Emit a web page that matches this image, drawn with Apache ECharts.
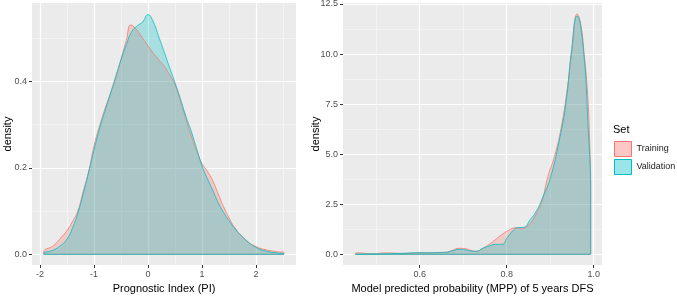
<!DOCTYPE html>
<html>
<head>
<meta charset="utf-8">
<script src="https://cdn.jsdelivr.net/npm/echarts@6/dist/echarts.min.js"></script>
<style>
  html, body { margin: 0; padding: 0; background: #fff; }
  #main { width: 677px; height: 297px; }
</style>
</head>
<body>
<div id="main"></div>
<script>
// Prognostic Index (PI) densities
var piTrainX = [-1.93,-1.93,-1.75,-1.6,-1.5,-1.4,-1.3,-1.2,-1.1,-1.0,-0.9,-0.8,-0.7,-0.6,-0.5,-0.4,-0.32,-0.25,-0.1,0,0.1,0.2,0.3,0.4,0.5,0.6,0.7,0.8,0.9,1.0,1.1,1.2,1.3,1.4,1.5,1.6,1.8,2.0,2.2,2.4,2.52,2.52];
var piTrainY = [0,0.006,0.02,0.04,0.055,0.075,0.10,0.145,0.19,0.25,0.295,0.335,0.37,0.405,0.45,0.495,0.53,0.525,0.50,0.482,0.465,0.45,0.435,0.415,0.392,0.355,0.315,0.275,0.24,0.21,0.192,0.17,0.14,0.11,0.085,0.063,0.034,0.018,0.01,0.006,0.004,0];
var piValidX = [-1.93,-1.93,-1.75,-1.6,-1.5,-1.4,-1.3,-1.2,-1.1,-1.0,-0.9,-0.8,-0.7,-0.6,-0.5,-0.4,-0.3,-0.2,-0.1,0,0.1,0.2,0.3,0.4,0.5,0.6,0.7,0.8,0.9,1.0,1.1,1.2,1.3,1.4,1.5,1.6,1.8,2.0,2.2,2.4,2.52,2.52];
var piValidY = [0,0.002,0.01,0.022,0.035,0.06,0.095,0.14,0.19,0.24,0.29,0.33,0.37,0.41,0.45,0.485,0.515,0.528,0.537,0.554,0.537,0.503,0.468,0.432,0.397,0.36,0.32,0.285,0.245,0.205,0.175,0.148,0.12,0.097,0.078,0.061,0.035,0.016,0.007,0.003,0.001,0];

// Model predicted probability (MPP) densities
var mppTrainX = [0.452,0.452,0.46,0.475,0.49,0.5,0.52,0.54,0.56,0.58,0.6,0.62,0.64,0.66,0.675,0.69,0.705,0.72,0.73,0.745,0.76,0.775,0.79,0.805,0.82,0.835,0.85,0.865,0.88,0.895,0.91,0.925,0.94,0.95,0.962,0.97,0.978,0.985,0.99,0.993,0.993];
var mppTrainY = [0,0.05,0.07,0.05,0.02,0.03,0.07,0.06,0.04,0.06,0.08,0.07,0.09,0.1,0.2,0.3,0.28,0.18,0.15,0.3,0.5,0.75,1.0,1.2,1.32,1.3,1.45,1.9,2.6,3.9,4.9,6.3,8.4,10.2,12.0,11.5,10.0,8.3,6.0,3.2,0];
var mppValidX = [0.452,0.48,0.5,0.53,0.56,0.6,0.63,0.66,0.675,0.69,0.705,0.72,0.73,0.745,0.76,0.775,0.79,0.8,0.815,0.825,0.84,0.853,0.868,0.883,0.9,0.921,0.937,0.948,0.962,0.975,0.987,0.993,0.993];
var mppValidY = [0,0.01,0.02,0.03,0.05,0.08,0.08,0.1,0.17,0.25,0.22,0.16,0.15,0.3,0.42,0.5,0.5,0.8,1.2,1.33,1.35,1.7,2.15,2.85,3.8,5.7,7.7,10.0,11.9,10.5,6.4,2.7,0];

// tick labels
var piXTicks = [-2, -1, 0, 1, 2];
var piXMinor = [-1.5, -0.5, 0.5, 1.5, 2.5];
var piYTicks = [0, 0.2, 0.4];
var piYMinor = [0.1, 0.3, 0.5];
var mppXTicks = [0.6, 0.8, 1.0];
var mppXMinor = [0.5, 0.7, 0.9];
var mppYTicks = [0, 2.5, 5, 7.5, 10, 12.5];
var mppYMinor = [1.25, 3.75, 6.25, 8.75, 11.25];

var setNames = ['Training', 'Validation'];
var lineColors = ['#F8766D', '#00BFC4'];
var fillColors = ['rgba(248,118,109,0.4)', 'rgba(0,191,196,0.4)'];

function pairs(xs, ys) {
    return xs.map(function (x, i) { return [x, ys[i]]; });
}

var font = 'Liberation Sans, Arial, sans-serif';

function majorAxis(grid, pos, min, max, ticks, fmt, name, gap) {
    return {
        type: 'value', gridIndex: grid, position: pos, min: min, max: max,
        name: name, nameLocation: 'middle', nameGap: gap, nameMoveOverlap: false,
        nameTextStyle: { fontFamily: font, fontSize: 11, color: '#000' },
        axisLine: { show: false, onZero: false },
        axisTick: { show: true, length: 3, customValues: ticks, lineStyle: { color: '#333', width: 1 } },
        axisLabel: { customValues: ticks, formatter: fmt, fontFamily: font, fontSize: 9, color: '#4d4d4d', margin: 5 },
        splitLine: { show: true, lineStyle: { color: '#fff', width: 1.2 } }
    };
}
function minorAxis(grid, pos, min, max, ticks) {
    return {
        type: 'value', gridIndex: grid, position: pos, min: min, max: max,
        axisLine: { show: false, onZero: false },
        axisTick: { show: false, customValues: ticks },
        axisLabel: { show: false, customValues: ticks },
        splitLine: { show: true, lineStyle: { color: '#f7f7f7', width: 0.7 } }
    };
}
function fmt1(v) { return v.toFixed(1); }
function fmt0(v) { return String(v); }

function densitySeries(name, idx, xAxis, yAxis, data) {
    return {
        name: name, type: 'line', xAxisIndex: xAxis, yAxisIndex: yAxis,
        data: data, smooth: 0.5, showSymbol: false, symbol: 'none',
        lineStyle: { color: lineColors[idx], width: 0.8 },
        itemStyle: { color: lineColors[idx] },
        areaStyle: { color: fillColors[idx], origin: 0 },
        silent: true, animation: false
    };
}
function baseSeries(idx, xAxis, yAxis, xs) {
    return {
        type: 'line', xAxisIndex: xAxis, yAxisIndex: yAxis,
        data: [[xs[0], 0], [xs[xs.length - 1], 0]], showSymbol: false, symbol: 'none',
        lineStyle: { color: lineColors[idx], width: 0.8 }, silent: true, animation: false
    };
}

var chart = echarts.init(document.getElementById('main'));
var option = {
    animation: false,
    backgroundColor: '#fff',
    title: {
        text: 'Set', left: 613, top: 124, padding: 0,
        textStyle: { fontFamily: font, fontSize: 11, fontWeight: 'normal', color: '#000' }
    },
    legend: {
        orient: 'vertical', left: 614, top: 141, padding: 0,
        itemWidth: 17, itemHeight: 15, itemGap: 2, icon: 'rect',
        selectedMode: false,
        textStyle: { fontFamily: font, fontSize: 9, color: '#222' },
        data: setNames.map(function (n, i) {
            return { name: n, itemStyle: { color: fillColors[i], borderColor: lineColors[i], borderWidth: 1 } };
        })
    },
    grid: [
        { left: 32, top: 3, width: 264, height: 262, show: true, backgroundColor: '#EBEBEB', borderWidth: 0, outerBoundsMode: 'none', containLabel: false },
        { left: 343, top: 3, width: 259, height: 262, show: true, backgroundColor: '#EBEBEB', borderWidth: 0, outerBoundsMode: 'none', containLabel: false }
    ],
    xAxis: [
        minorAxis(0, 'bottom', -2.148, 2.742, piXMinor),
        majorAxis(0, 'bottom', -2.148, 2.742, piXTicks, fmt0, 'Prognostic Index (PI)', 18),
        minorAxis(1, 'bottom', 0.4237, 1.019, mppXMinor),
        majorAxis(1, 'bottom', 0.4237, 1.019, mppXTicks, fmt1, 'Model predicted probability (MPP) of 5 years DFS', 18)
    ],
    yAxis: [
        minorAxis(0, 'left', -0.0247, 0.581, piYMinor),
        majorAxis(0, 'left', -0.0247, 0.581, piYTicks, fmt1, 'density', 19),
        minorAxis(1, 'left', -0.534, 12.55, mppYMinor),
        majorAxis(1, 'left', -0.534, 12.55, mppYTicks, fmt1, 'density', 22)
    ],
    series: [
        densitySeries('Training', 0, 1, 1, pairs(piTrainX, piTrainY)),
        baseSeries(0, 1, 1, piTrainX),
        densitySeries('Validation', 1, 1, 1, pairs(piValidX, piValidY)),
        baseSeries(1, 1, 1, piValidX),
        densitySeries('Training', 0, 3, 3, pairs(mppTrainX, mppTrainY)),
        baseSeries(0, 3, 3, mppTrainX),
        densitySeries('Validation', 1, 3, 3, pairs(mppValidX, mppValidY)),
        baseSeries(1, 3, 3, mppValidX)
    ]
};
chart.setOption(option);
</script>
</body>
</html>
